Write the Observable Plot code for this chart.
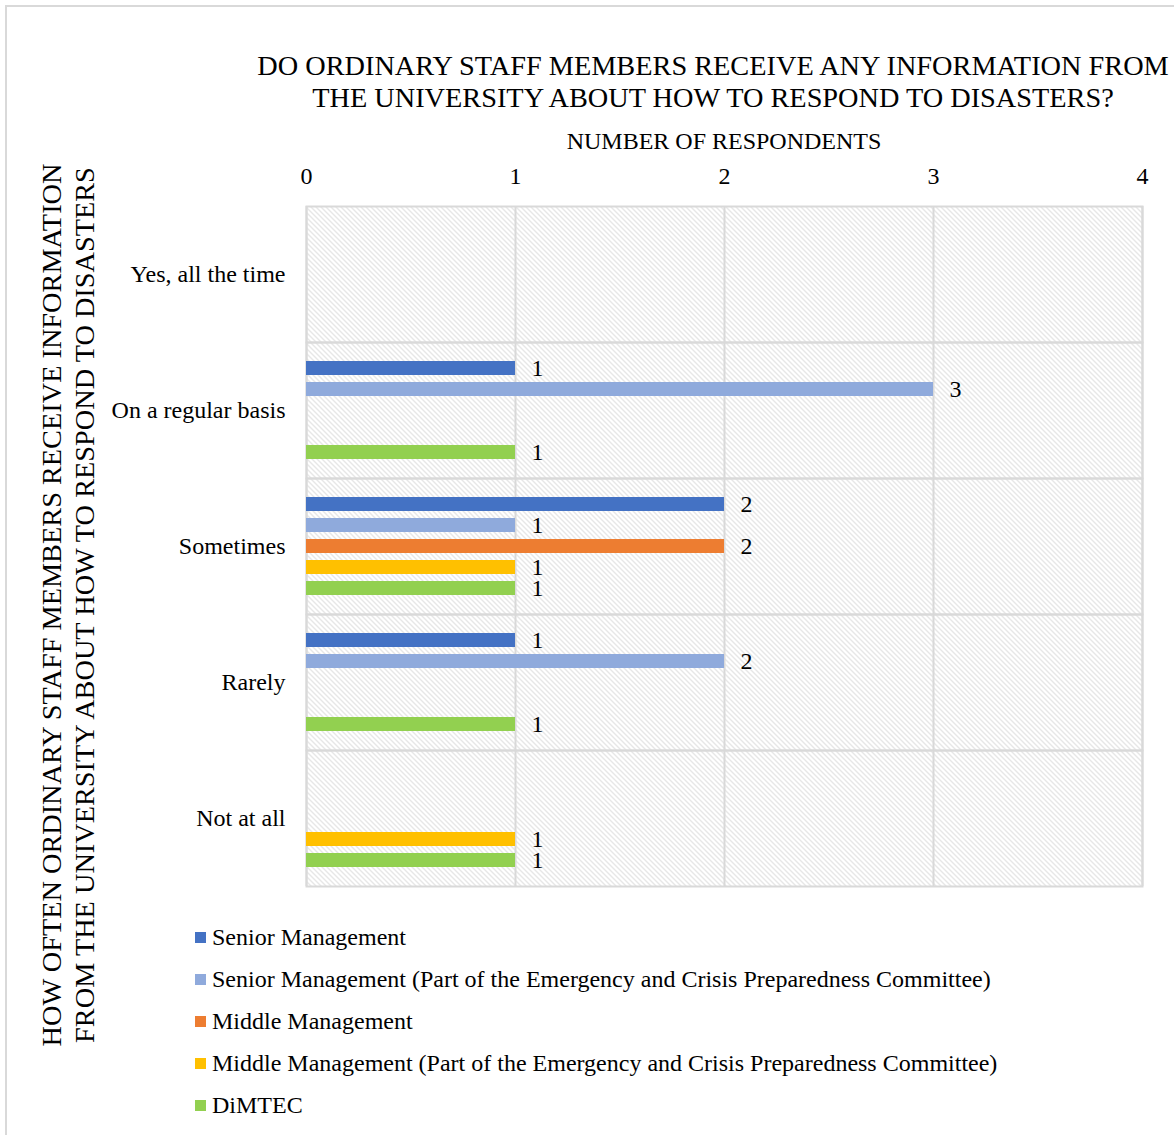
<!DOCTYPE html>
<html>
<head>
<meta charset="utf-8">
<script src="https://cdn.jsdelivr.net/npm/d3@7"></script>
<script src="https://cdn.jsdelivr.net/npm/@observablehq/plot@0.6"></script>
<style>
  html, body { margin: 0; padding: 0; background: #fff; }
  #chart {
    position: relative; width: 1174px; height: 1135px; overflow: hidden;
    font-family: "Liberation Serif", "Times New Roman", serif; color: #000;
  }
  #frame {
    position: absolute; left: 5px; top: 5px; width: 1200px; height: 1200px;
    border-left: 2px solid #d9d9d9; border-top: 2px solid #d9d9d9; box-sizing: border-box;
  }
  #title {
    position: absolute; left: 213px; width: 1000px; top: 50px;
    text-align: center; font-size: 28.3px; line-height: 32px; white-space: nowrap;
  }
  #xtitle {
    position: absolute; left: 524px; width: 400px; top: 127px;
    text-align: center; font-size: 24px; line-height: 28px; white-space: nowrap;
  }
  #ytitle {
    position: absolute; left: 68px; top: 605px; transform: translate(-50%, -50%) rotate(-90deg);
    text-align: center; font-size: 28.3px; line-height: 33px; white-space: nowrap;
  }
  #plot { position: absolute; left: 0; top: 120px; }
  #legend { position: absolute; left: 195px; top: 916px; font-size: 24px; line-height: 42px; }
  .item { display: flex; align-items: center; white-space: nowrap; }
  .sw { width: 11px; height: 11px; margin-right: 6px; flex: none; }
</style>
</head>
<body>
<div id="chart">
  <div id="frame"></div>
  <div id="title">DO ORDINARY STAFF MEMBERS RECEIVE ANY INFORMATION FROM<br>THE UNIVERSITY ABOUT HOW TO RESPOND TO DISASTERS?</div>
  <div id="xtitle">NUMBER OF RESPONDENTS</div>
  <div id="ytitle">HOW OFTEN ORDINARY STAFF MEMBERS RECEIVE INFORMATION<br>FROM THE UNIVERSITY ABOUT HOW TO RESPOND TO DISASTERS</div>
  <div id="plot"></div>
  <div id="legend"></div>
</div>
<script>
// Answer categories, top to bottom
const categories = ["Yes, all the time", "On a regular basis", "Sometimes", "Rarely", "Not at all"];

// Respondent groups, in bar order within each category
const groups = [
  "Senior Management",
  "Senior Management (Part of the Emergency and Crisis Preparedness Committee)",
  "Middle Management",
  "Middle Management (Part of the Emergency and Crisis Preparedness Committee)",
  "DiMTEC"
];
const groupColors = ["#4472C4", "#8FAADC", "#ED7D31", "#FFC000", "#92D050"];

// Number of respondents per category, one array per group
const seniorManagement = [0, 1, 2, 1, 0];
const seniorManagementCommittee = [0, 3, 1, 2, 0];
const middleManagement = [0, 0, 2, 0, 0];
const middleManagementCommittee = [0, 0, 1, 0, 1];
const dimtec = [0, 1, 1, 1, 1];

const xTicks = [0, 1, 2, 3, 4];

const seriesValues = [seniorManagement, seniorManagementCommittee, middleManagement, middleManagementCommittee, dimtec];

// Long-format rows (every category kept so each facet panel is drawn)
const rows = [];
categories.forEach((category, i) => {
  groups.forEach((group, g) => {
    rows.push({category, group, value: seriesValues[g][i]});
  });
});

const gridColor = "#d9d9d9";

const chart = Plot.plot({
  width: 1174,
  height: 777,
  marginTop: 85,
  marginLeft: 306,
  marginRight: 32,
  marginBottom: 10,
  style: {fontFamily: "'Liberation Serif', 'Times New Roman', serif", fontSize: "24px", color: "#000", background: "transparent"},
  facet: {data: rows, y: "category"},
  fy: {domain: categories, padding: 0, label: null, tickSize: 0, tickPadding: 21},
  x: {domain: [0, 4], axis: "top", ticks: xTicks, tickFormat: d3.format("d"), tickSize: 0, tickPadding: 23, label: null},
  y: {domain: groups, axis: null, paddingInner: 0.35, paddingOuter: 0.8},
  color: {domain: groups, range: groupColors},
  marks: [
    Plot.frame({fill: "url(#hatch)"}),
    Plot.ruleX(xTicks, {stroke: gridColor, strokeWidth: 2}),
    Plot.frame({stroke: gridColor, strokeWidth: 2}),
    Plot.barX(rows, {filter: d => d.value > 0, x: "value", y: "group", fill: "group"}),
    Plot.text(rows, {filter: d => d.value > 0, x: "value", y: "group", text: "value", textAnchor: "start", dx: 16, fill: "#000"})
  ]
});

// Diagonal hatching used behind the bars
const svgNS = "http://www.w3.org/2000/svg";
const defs = document.createElementNS(svgNS, "defs");
defs.innerHTML = `<pattern id="hatch" patternUnits="userSpaceOnUse" width="5" height="5">
  <rect width="5" height="5" fill="#ffffff"/>
  <path d="M0,0 L5,5 M-1,4 L1,6 M4,-1 L6,1" stroke="#cfcfcf" stroke-width="1"/>
</pattern>`;
chart.insertBefore(defs, chart.firstChild);

document.getElementById("plot").appendChild(chart);

// Legend
const legend = d3.select("#legend");
groups.forEach((g, i) => {
  const item = legend.append("div").attr("class", "item");
  item.append("div").attr("class", "sw").style("background", groupColors[i]);
  item.append("span").text(g);
});
</script>
</body>
</html>
